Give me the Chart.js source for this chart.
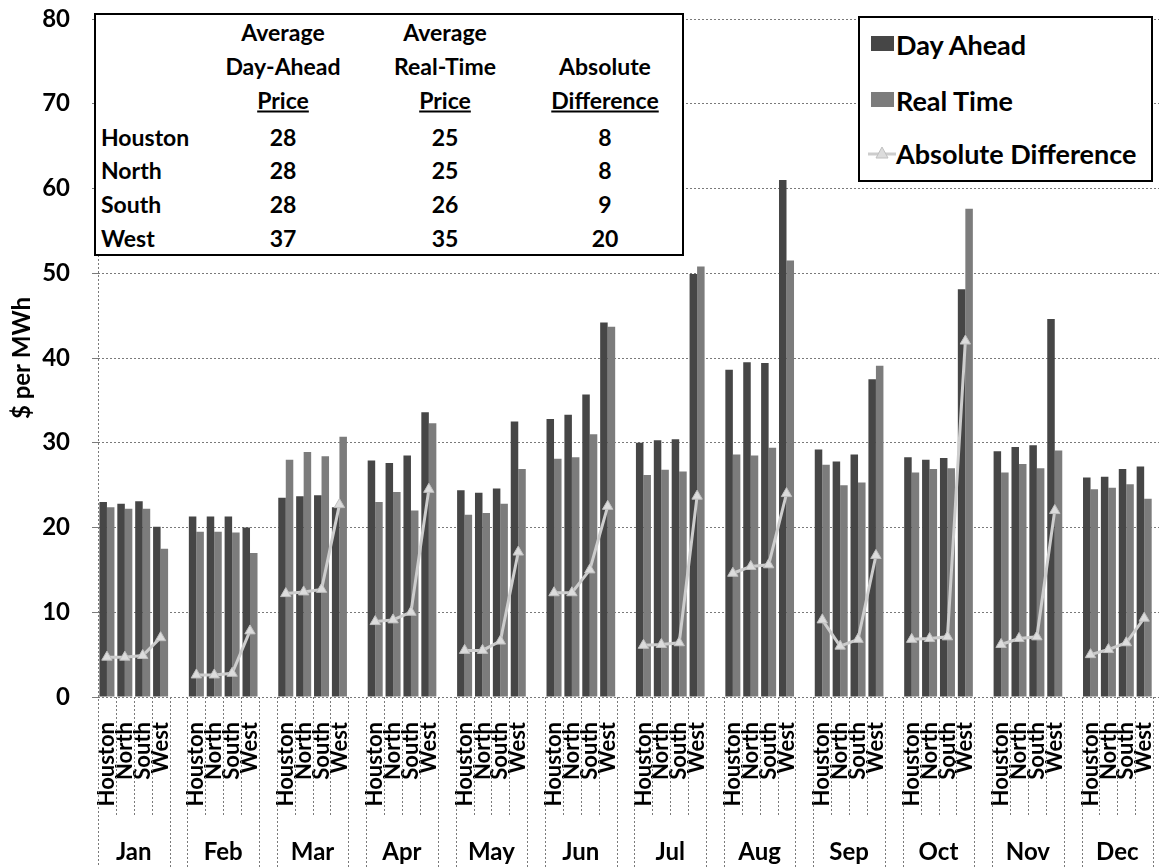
<!DOCTYPE html>
<html><head><meta charset="utf-8">
<script src="https://cdn.jsdelivr.net/npm/chart.js@4"></script>
<style>
html,body{margin:0;padding:0;background:#fff;overflow:hidden;width:1159px;height:867px;}
#wrap{position:absolute;left:0;top:0;width:1178px;height:867px;}
#c{display:block;position:absolute;left:0;top:0;}
.box{position:absolute;background:#fff;border:2px solid #000;box-sizing:border-box;}
.t{position:absolute;white-space:nowrap;line-height:1;font-family:Lato,sans-serif;font-weight:bold;color:#000;}
.c{transform:translate(-50%,-50%);}
.l{transform:translate(0,-50%);}
</style></head><body>
<div id="wrap"><canvas id="c" width="1178" height="867"></canvas></div>
<script>
const months = ['Jan','Feb','Mar','Apr','May','Jun','Jul','Aug','Sep','Oct','Nov','Dec'];
const zones = ['Houston','North','South','West'];

const dayAheadHouston = [23.0,21.3,23.5,27.9,24.4,32.8,30.0,38.6,29.2,28.3,29.0,25.9];
const dayAheadNorth   = [22.8,21.3,23.7,27.6,24.1,33.3,30.3,39.5,27.8,28.0,29.5,26.0];
const dayAheadSouth   = [23.1,21.3,23.8,28.5,24.6,35.7,30.4,39.4,28.6,28.2,29.7,26.9];
const dayAheadWest    = [20.1,20.0,22.4,33.6,32.5,44.2,49.9,61.0,37.5,48.1,44.6,27.2];

const realTimeHouston = [22.4,19.5,28.0,23.0,21.5,28.1,26.2,28.6,27.4,26.5,26.5,24.5];
const realTimeNorth   = [22.2,19.5,28.9,24.2,21.7,28.3,26.8,28.5,25.0,26.9,27.5,24.7];
const realTimeSouth   = [22.2,19.4,28.4,22.0,22.8,31.0,26.6,29.4,25.3,27.0,27.0,25.1];
const realTimeWest    = [17.5,17.0,30.7,32.3,26.9,43.7,50.8,51.5,39.1,57.6,29.1,23.4];

const absDiffHouston  = [4.7,2.6,12.2,8.9,5.5,12.3,6.1,14.6,9.1,6.8,6.2,5.0];
const absDiffNorth    = [4.7,2.6,12.4,9.1,5.5,12.3,6.2,15.4,6.0,6.9,6.9,5.6];
const absDiffSouth    = [4.9,2.8,12.7,10.0,6.6,15.0,6.4,15.6,6.8,7.1,7.1,6.4];
const absDiffWest     = [7.0,7.8,22.7,24.5,17.1,22.5,23.7,24.0,16.7,42.0,22.0,9.3];

const tableHeaders = [['Average','Day-Ahead','Price'],['Average','Real-Time','Price'],['','Absolute','Difference']];
const avgDayAhead = [28,28,28,37];
const avgRealTime = [25,25,26,35];
const avgAbsDiff  = [8,8,9,20];

const yTicks = [0,10,20,30,40,50,60,70,80];

// build 60 categories: 4 zones + 1 blank per month
const daZ = [dayAheadHouston,dayAheadNorth,dayAheadSouth,dayAheadWest];
const rtZ = [realTimeHouston,realTimeNorth,realTimeSouth,realTimeWest];
const adZ = [absDiffHouston,absDiffNorth,absDiffSouth,absDiffWest];
const labels=[], da=[], rt=[], ad=[];
months.forEach((m,mi)=>{
  zones.forEach((z,zi)=>{ labels.push(z); da.push(daZ[zi][mi]); rt.push(rtZ[zi][mi]); ad.push(adZ[zi][mi]); });
  labels.push(''); da.push(null); rt.push(null); ad.push(null);
});

const FONT = 'Lato';
const DA_COLOR = '#464646', RT_COLOR = '#7c7c7c', AD_COLOR = '#cdcdcd';
const separators = {
  id:'separators',
  afterDraw(chart){
    const xs = chart.scales.x, ctx = chart.ctx, n = labels.length;
    const w = xs.getPixelForValue(1) - xs.getPixelForValue(0);
    ctx.save(); ctx.strokeStyle = '#7a7a7a'; ctx.lineWidth = 1; ctx.setLineDash([2,2]);
    for (let i=0;i<=n;i++){
      const x = Math.round(xs.getPixelForValue(i) - w/2) + 0.5;
      const long = (i%5===0 || i%5===4);
      ctx.beginPath();
      ctx.moveTo(x, i===0 ? chart.chartArea.top : xs.top);
      ctx.lineTo(x, long ? chart.height : xs.bottom);
      ctx.stroke();
    }
    ctx.restore();
  }
};

new Chart(document.getElementById('c'), {
  data: {
    labels,
    datasets: [
      {type:'line', label:'Absolute Difference', data: ad, order:0, spanGaps:false,
       borderColor:AD_COLOR, borderWidth:3, pointStyle:'triangle', pointRadius:6,
       pointBackgroundColor:'#dcdcdc', pointBorderColor:'#c0c0c0', pointBorderWidth:1, tension:0},
      {type:'bar', label:'Day Ahead', data: da, order:1, backgroundColor:DA_COLOR,
       categoryPercentage:0.84, barPercentage:1.0},
      {type:'bar', label:'Real Time', data: rt, order:2, backgroundColor:RT_COLOR,
       categoryPercentage:0.84, barPercentage:1.0}
    ]
  },
  options: {
    responsive:false, animation:false, devicePixelRatio:1,
    layout:{padding:{left:0,right:0,top:19,bottom:0}},
    plugins:{legend:{display:false}, tooltip:{enabled:false}},
    scales:{
      x:{type:'category', position:'bottom', offset:true,
         grid:{display:false}, border:{display:false},
         ticks:{autoSkip:false, minRotation:90, maxRotation:90, padding:17, color:'#000',
                font:{family:FONT, weight:'bold', size:22}},
         afterFit(s){ s.height = 120; s.paddingLeft = 0; s.paddingRight = 0; }},
      x2:{type:'category', position:'bottom', labels: months, offset:true,
         grid:{display:false}, border:{display:false},
         ticks:{autoSkip:false, minRotation:0, maxRotation:0, padding:13, labelOffset:-9, color:'#000',
                font:{family:FONT, weight:'bold', size:24}},
         afterFit(s){ s.height = 50; s.paddingLeft = 0; s.paddingRight = 0; }},
      y:{min:0, max:80, afterBuildTicks(s){ s.ticks = yTicks.map(v=>({value:v})); },
         ticks:{padding:22, color:'#000', font:{family:FONT, weight:'bold', size:24}},
         grid:{color:'#7a7a7a', lineWidth:1, tickLength:6, tickColor:'#7a7a7a'},
         border:{display:false, dash:[2,2]},
         title:{display:true, text:'$ per MWh', color:'#000', padding:{top:8,bottom:0},
                font:{family:FONT, weight:'bold', size:24}},
         afterFit(s){ s.width = 98; s.paddingTop = 0; s.paddingBottom = 0; }}
    }
  },
  plugins:[separators]
});

// Overlay: summary table and legend (real text)
const wrap = document.getElementById('wrap');
function el(cls, css, html){ const d=document.createElement('div'); d.className=cls; d.style.cssText=css; if(html!==undefined) d.innerHTML=html; wrap.appendChild(d); return d; }
el('box','left:94px;top:13px;width:590px;height:243px;');
const colX = [283,445,605], headY = [32,66,100], rowY = [137,170,204,238];
tableHeaders.forEach((col,ci)=>col.forEach((txt,ri)=>{
  if(!txt) return;
  el('t c', `left:${colX[ci]}px;top:${headY[ri]}px;font-size:23px;` + (ri===2?'text-decoration:underline;':''), txt);
}));
const tableCols = [avgDayAhead, avgRealTime, avgAbsDiff];
zones.forEach((z,zi)=>{
  el('t l', `left:101px;top:${rowY[zi]}px;font-size:23px;`, z);
  tableCols.forEach((arr,ci)=> el('t c', `left:${colX[ci]}px;top:${rowY[zi]}px;font-size:23px;`, String(arr[zi])));
});

el('box','left:858px;top:16px;width:295px;height:166px;');
const legendItems = [
  {text:'Day Ahead', y:44, kind:'bar', color:DA_COLOR},
  {text:'Real Time', y:100, kind:'bar', color:RT_COLOR},
  {text:'Absolute Difference', y:153, kind:'line', color:AD_COLOR}
];
legendItems.forEach(it=>{
  if(it.kind==='bar'){
    el('', `position:absolute;left:871px;top:${it.y-8}px;width:23px;height:15px;background:${it.color};`);
  } else {
    el('', `position:absolute;left:868px;top:${it.y-9}px;width:28px;height:18px;`,
      `<svg width="28" height="18"><line x1="0" y1="10" x2="28" y2="10" stroke="${it.color}" stroke-width="3"/><polygon points="14,3 20,14 8,14" fill="#dcdcdc" stroke="#c0c0c0"/></svg>`);
  }
  el('t l', `left:896px;top:${it.y}px;font-size:27px;`, it.text);
});
</script>
</body></html>
